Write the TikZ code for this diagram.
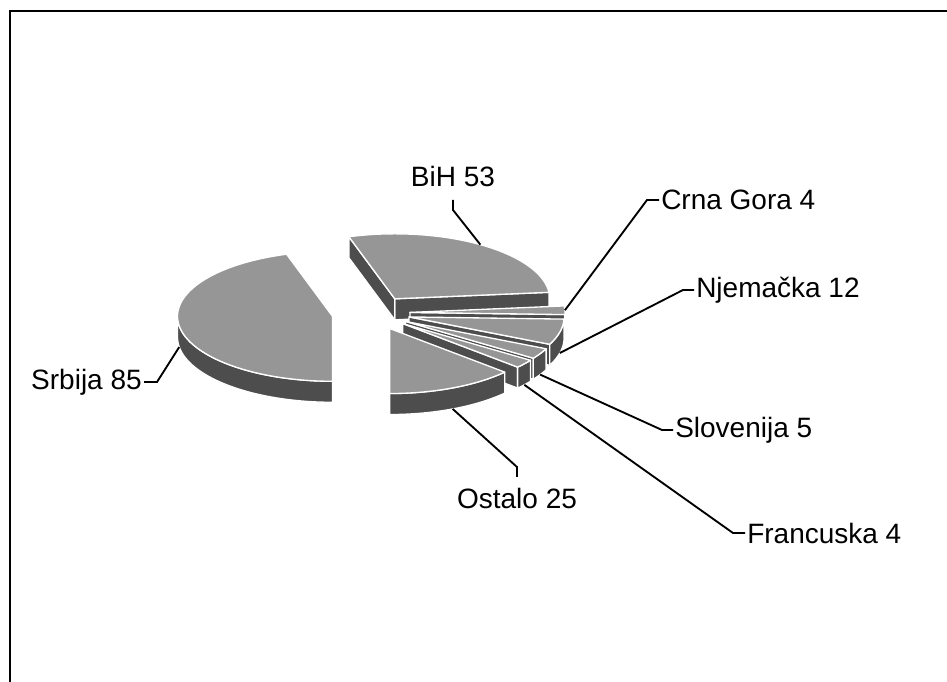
\documentclass[tikz,border=0pt]{standalone}
\usepackage{fontspec}
\setmainfont{Liberation Sans}
\usetikzlibrary{calc,positioning}

\definecolor{topgray}{RGB}{150,150,150}
\definecolor{sidegray}{RGB}{77,77,77}

% one exploded slice: name, start, end, explode, band from, band to
\newcommand{\pieslice}[6]{%
  \pgfmathsetmacro\slM{(#2+#3)/2}
  \pgfmathsetmacro\vx{376+#4*cos(\slM)}
  \pgfmathsetmacro\vy{369+0.5*#4*sin(\slM)}
  \pgfmathtruncatemacro\showA{cos(#2)>0.01}
  \pgfmathtruncatemacro\showB{cos(#3)<-0.01}
  \pgfmathtruncatemacro\showC{#6-#5>0.01}
  \pgfmathtruncatemacro\slUp{sin(\slM)>0}
  \ifnum\showA=1
    \draw[slicewall] (\vx,\vy) -- ({\vx+155*cos(#2)},{\vy+65*sin(#2)}) -- ++(0,-21) -- ({\vx},{\vy-21}) -- cycle;
  \fi
  \ifnum\showB=1
    \draw[slicewall] (\vx,\vy) -- ({\vx+155*cos(#3)},{\vy+65*sin(#3)}) -- ++(0,-21) -- ({\vx},{\vy-21}) -- cycle;
  \fi
  \ifnum\showC=1
    \draw[slicewall] plot[domain=#5:#6, samples=40] ({\vx+155*cos(\x)},{\vy+65*sin(\x)})
      -- plot[domain=#6:#5, samples=40] ({\vx+155*cos(\x)},{\vy-21+65*sin(\x)}) -- cycle;
  \fi
  \draw[slicetop] (\vx,\vy) -- plot[domain=#2:#3, samples=60] ({\vx+155*cos(\x)},{\vy+65*sin(\x)}) -- cycle;
  \ifnum\slUp=1
    \coordinate (rim-#1) at ({\vx+155*cos(\slM)},{\vy+65*sin(\slM)});
  \else
    \coordinate (rim-#1) at ({\vx+155*cos(\slM)},{\vy-21+65*sin(\slM)});
  \fi
}

\begin{document}
\begin{tikzpicture}[x=0.75pt, y=0.75pt,
	slicetop/.style={fill=topgray, draw=white, line width=1pt, line join=round},
	slicewall/.style={fill=sidegray, draw=white, line width=1pt, line join=round},
	leader/.style={draw=black, line width=1.4pt},
	lbl/.style={inner sep=0pt, font=\fontsize{21}{25}\selectfont}]
	\useasboundingbox (0,0) rectangle (947,682);
	\fill[white] (0,0) rectangle (947,682);
	\draw[line width=1.5pt] (9.5,0) -- (9.5,670.5) -- (947,670.5);

	% slices, back to front
	\pieslice{bih}{5.745}{107.234}{34}{0}{0}
	\pieslice{cg}{-1.915}{5.745}{34}{-1.915}{0}
	\pieslice{nj}{-24.894}{-1.915}{34}{-24.894}{-1.915}
	\pieslice{sl}{-34.468}{-24.894}{34}{-34.468}{-24.894}
	\pieslice{fr}{-42.128}{-34.468}{34}{-42.128}{-34.468}
	\pieslice{srb}{107.234}{270}{44}{180}{270}
	\pieslice{ost}{-90}{-42.128}{34}{-90}{-42.128}

	% leaders and labels
	\coordinate (k-srb) at (157,300);  \coordinate (e-srb) at (144,300);
	\coordinate (k-bih) at (453,472);  \coordinate (e-bih) at (453,482);
	\coordinate (k-cg)  at (647,482);  \coordinate (e-cg)  at (659,482);
	\coordinate (k-nj)  at (683,392);  \coordinate (e-nj)  at (694,392);
	\coordinate (k-sl)  at (662,252);  \coordinate (e-sl)  at (673,252);
	\coordinate (k-fr)  at (733,149);  \coordinate (e-fr)  at (745,149);
	\coordinate (k-ost) at (517,215);  \coordinate (e-ost) at (517,205);

	\node[lbl] (srb) [left=1.5pt of e-srb]  {Srbija 85};
	\node[lbl] (bih) [above=9.5pt of e-bih] {BiH 53};
	\node[lbl] (cg)  [right=1.5pt of e-cg]  {Crna Gora 4};
	\node[lbl] (nj)  [right=1.5pt of e-nj]  {Njema\v{c}ka 12};
	\node[lbl] (sl)  [right=1.5pt of e-sl]  {Slovenija 5};
	\node[lbl] (fr)  [right=1.5pt of e-fr]  {Francuska 4};
	\node[lbl] (ost) [below=8pt of e-ost]   {Ostalo 25};

	\foreach \n in {srb,bih,cg,nj,sl,fr,ost}
		\draw[leader] (rim-\n) -- (k-\n) -- (e-\n);
\end{tikzpicture}
\end{document}
